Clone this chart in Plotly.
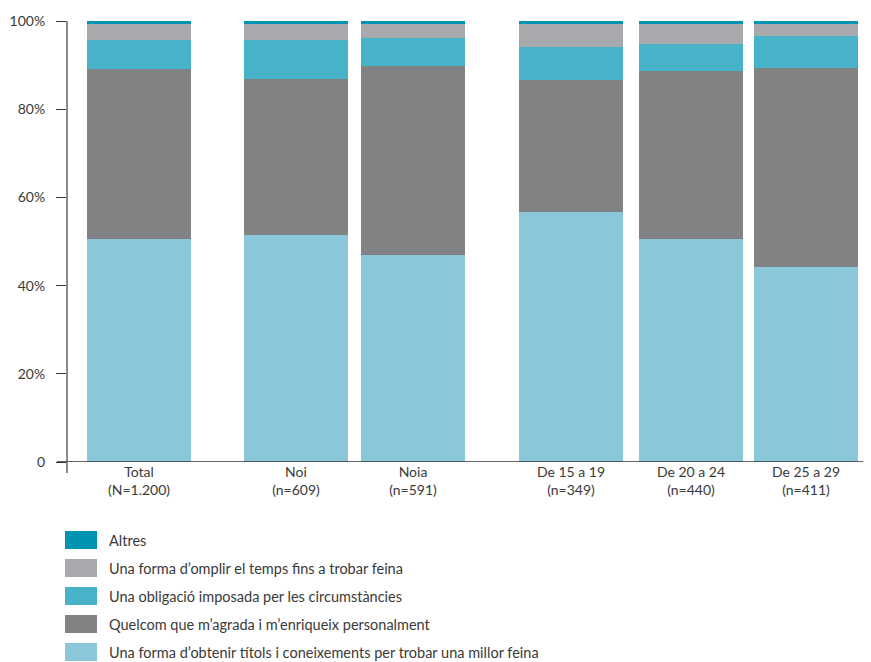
import plotly.graph_objects as go

categories = ["Total<br>(N=1.200)", "Noi<br>(n=609)", "Noia<br>(n=591)",
              "De 15 a 19<br>(n=349)", "De 20 a 24<br>(n=440)", "De 25 a 29<br>(n=411)"]

series_names = [
    "Una forma d’obtenir títols i coneixements per trobar una millor feina",
    "Quelcom que m’agrada i m’enriqueix personalment",
    "Una obligació imposada per les circumstàncies",
    "Una forma d’omplir el temps fins a trobar feina",
    "Altres",
]
titols = [50.6, 51.5, 46.9, 56.7, 50.6, 44.2]
agrada = [38.5, 35.3, 42.9, 29.9, 38.1, 45.1]
obligacio = [6.6, 8.9, 6.3, 7.5, 6.1, 7.3]
omplir = [3.6, 3.6, 3.2, 5.2, 4.5, 2.7]
altres = [0.7, 0.7, 0.7, 0.7, 0.7, 0.7]
series_values = [titols, agrada, obligacio, omplir, altres]
colors = ["#89C7D9", "#818284", "#47B3C9", "#A7A9AC", "#0093B2"]

y_tickvals = [0, 20, 40, 60, 80, 100]
y_ticktext = ["0", "20%", "40%", "60%", "80%", "100%"]

# layout constants (bar positions along a pixel-like x range)
x_pos = [72, 229, 346, 504, 624, 739]
bar_w = 104
x_range = [0, 802]

OFF = 8  # page body margin
fig = go.Figure()
for name, vals, col in zip(series_names, series_values, colors):
    fig.add_trace(go.Bar(x=x_pos, y=vals, name=name, width=bar_w,
                         marker=dict(color=col, line=dict(width=0)),
                         showlegend=False))

FONT = "Lato, 'Open Sans', sans-serif"
TXT = "#3a3a3a"

fig.update_layout(
    barmode="stack",
    width=871 - OFF, height=662 - OFF,
    margin=dict(l=67 - OFF, r=2, t=21 - OFF, b=200, pad=0),
    paper_bgcolor="white", plot_bgcolor="white",
    font=dict(family=FONT, size=14, color=TXT),
    xaxis=dict(range=x_range, tickvals=x_pos, ticktext=categories,
               showgrid=False, zeroline=False, showline=False, ticks="",
               tickfont=dict(size=14, color=TXT), fixedrange=True),
    yaxis=dict(range=[0, 100], tickvals=y_tickvals, ticktext=y_ticktext,
               showgrid=False, zeroline=False, showline=False,
               ticks="outside", ticklen=10, tickwidth=1, tickcolor="#333",
               ticklabelstandoff=8,
               tickfont=dict(size=14, color=TXT), fixedrange=True),
    bargap=0,
)

shapes = []
ph = 441.0
pw = 802.0
# y axis line (extends a bit below 0)
shapes.append(dict(type="line", xref="paper", yref="paper", x0=0, x1=0,
                   y0=-11/ph, y1=1, line=dict(color="#8a8a8a", width=2)))
# x axis line
shapes.append(dict(type="line", xref="paper", yref="y", x0=-10/pw, x1=1,
                   y0=0, y1=0, line=dict(color="#333", width=1.5)))
shapes.append(dict(type="line", xref="paper", yref="paper", x0=1, x1=1,
                   y0=0, y1=-10/ph, line=dict(color="#333", width=1.5)))

annotations = []
# custom legend
legend_order = list(range(len(series_names)))[::-1]
row_y = [540, 568, 596, 624, 652]
for i, idx in enumerate(legend_order):
    yc = row_y[i]
    y0 = (462 - (yc + 9)) / ph
    y1 = (462 - (yc - 9)) / ph
    shapes.append(dict(type="rect", xref="paper", yref="paper",
                       x0=(65 - 67) / pw, x1=(97 - 67) / pw, y0=y0, y1=y1,
                       fillcolor=colors[idx], line=dict(width=0)))
    annotations.append(dict(xref="paper", yref="paper", x=(108 - 67) / pw,
                            y=(462 - yc) / ph, text=series_names[idx],
                            showarrow=False, xanchor="left", yanchor="middle",
                            borderpad=0,
                            font=dict(size=14.5, color=TXT, family=FONT)))

fig.update_layout(shapes=shapes, annotations=annotations)
fig.write_html("out.html")
